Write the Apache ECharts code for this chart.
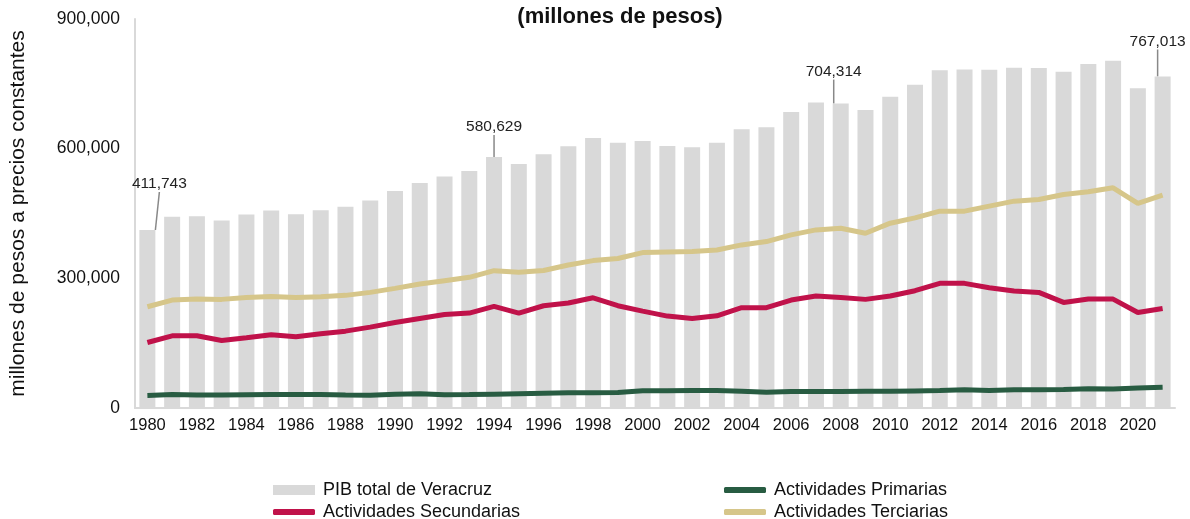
<!DOCTYPE html>
<html>
<head>
<meta charset="utf-8">
<script src="https://cdn.jsdelivr.net/npm/echarts@6/dist/echarts.min.js"></script>
<style>
  html, body { margin: 0; padding: 0; background: #fff; }
  #chart { width: 1190px; height: 519px; }
</style>
</head>
<body>
<div id="chart"></div>
<script>
// años
const years = []
for (let y = 1980; y <= 2021; y++) years.push(String(y))

// PIB total (millones de pesos)
const pibTotal = [
  411743, 442300, 443800, 433800, 447700, 457000, 448500, 457700, 465500, 480200,
  501800, 520400, 535800, 548200, 580629, 564400, 586900, 605400, 624700, 613900,
  617800, 606200, 603100, 613900, 644800, 649500, 685100, 706700, 704314, 689700,
  719900, 747700, 781700, 783200, 782500, 787100, 786400, 777800, 795600, 803300,
  739900, 767013
]
const primarias = [
  29000, 31000, 30000, 30000, 30500, 31000, 31000, 31000, 30000, 29500,
  32000, 33000, 30500, 31000, 32000, 33000, 34000, 35000, 35000, 36000,
  40000, 40000, 40500, 40500, 39000, 36500, 38000, 38000, 38000, 39000,
  38500, 39500, 40500, 42000, 40500, 42000, 42000, 43000, 44500, 44000,
  46000, 48000
]
const secundarias = [
  151500, 167000, 167000, 156200, 162400, 169300, 164700, 171600, 177800, 187100,
  197900, 207200, 216500, 219600, 235000, 219600, 236600, 242800, 255000, 236600,
  224200, 212600, 207200, 213400, 232000, 232000, 249700, 259000, 255900, 251300,
  259000, 271400, 288400, 288400, 278400, 270600, 267500, 244300, 252000, 252000,
  221100, 230400
]
const terciarias = [
  234300, 249700, 252000, 251300, 255900, 258200, 255900, 257500, 260600, 267500,
  276800, 286900, 294600, 302300, 317800, 313900, 318000, 330900, 341000, 346000,
  359500, 361000, 361900, 365700, 377300, 385000, 400500, 412100, 416000, 404400,
  427600, 440000, 455400, 455400, 467000, 478600, 482500, 494100, 500300, 509500,
  473200, 492500
]
// etiquetas destacadas: índice -> desplazamiento de la etiqueta
const labelMoves = { 0: [12, -33], 14: [0, -17], 28: [-7, -19], 41: [-5, -22] }

const fmt = (v) => v.toLocaleString('en-US')

// solo las barras destacadas llevan etiqueta y línea guía
const barData = pibTotal.map((v, i) => labelMoves[i]
  ? { value: v, label: { show: true }, labelLine: { show: true } }
  : v)

// una leyenda por elemento para colocarlas en dos columnas
const legendItem = (name, left, top, icon, h) => ({
  left, top, itemWidth: 42, itemHeight: h, icon,
  data: [name],
  textStyle: { fontSize: 18, color: '#111', padding: [0, 0, 0, 3] }
})

const chart = echarts.init(document.getElementById('chart'))
chart.setOption({
  animation: false,
  textStyle: { fontFamily: 'Liberation Sans, Arial, sans-serif' },
  title: {
    text: '(millones de pesos)',
    left: 615,
    textAlign: 'center',
    top: 1,
    textStyle: { fontSize: 22, fontWeight: 'bold', color: '#111' }
  },
  legend: [
    legendItem('PIB total de Veracruz', 268, 476, 'rect', 10),
    legendItem('Actividades Secundarias', 268, 498, 'roundRect', 6),
    legendItem('Actividades Primarias', 719, 476, 'roundRect', 6),
    legendItem('Actividades Terciarias', 719, 498, 'roundRect', 6)
  ],
  grid: { left: 133, right: 15, top: 19, bottom: 111 },
  xAxis: {
    type: 'category',
    data: years,
    axisTick: { show: false },
    axisLine: { lineStyle: { color: '#d9d9d9', width: 2 } },
    axisLabel: { interval: 1, fontSize: 16.5, color: '#111', margin: 9 }
  },
  yAxis: {
    type: 'value',
    min: 0, max: 900000, interval: 300000,
    name: 'millones de pesos a precios constantes',
    nameLocation: 'middle',
    nameGap: 106,
    nameTextStyle: { fontSize: 21, color: '#111' },
    splitLine: { show: false },
    axisLine: { show: true, lineStyle: { color: '#d9d9d9', width: 2 } },
    axisLabel: { fontSize: 17.5, color: '#111', margin: 15, formatter: fmt }
  },
  series: [
    {
      name: 'PIB total de Veracruz',
      type: 'bar',
      data: barData,
      barWidth: 16,
      itemStyle: { color: '#d9d9d9' },
      label: {
        show: false,
        position: 'top',
        fontSize: 15.5,
        color: '#222',
        formatter: (p) => fmt(p.value)
      },
      labelLine: { show: false, lineStyle: { color: '#888', width: 1.5 } },
      labelLayout: (p) => {
        const m = labelMoves[p.dataIndex]
        return m ? { dx: m[0], dy: m[1] } : {}
      },
      z: 1
    },
    {
      name: 'Actividades Primarias',
      type: 'line',
      data: primarias,
      symbol: 'none',
      lineStyle: { color: '#285c42', width: 5 },
      itemStyle: { color: '#285c42' },
      z: 3
    },
    {
      name: 'Actividades Secundarias',
      type: 'line',
      data: secundarias,
      symbol: 'none',
      lineStyle: { color: '#c0124a', width: 5 },
      itemStyle: { color: '#c0124a' },
      z: 3
    },
    {
      name: 'Actividades Terciarias',
      type: 'line',
      data: terciarias,
      symbol: 'none',
      lineStyle: { color: '#d6c68a', width: 5 },
      itemStyle: { color: '#d6c68a' },
      z: 3
    }
  ]
})
</script>
</body>
</html>
